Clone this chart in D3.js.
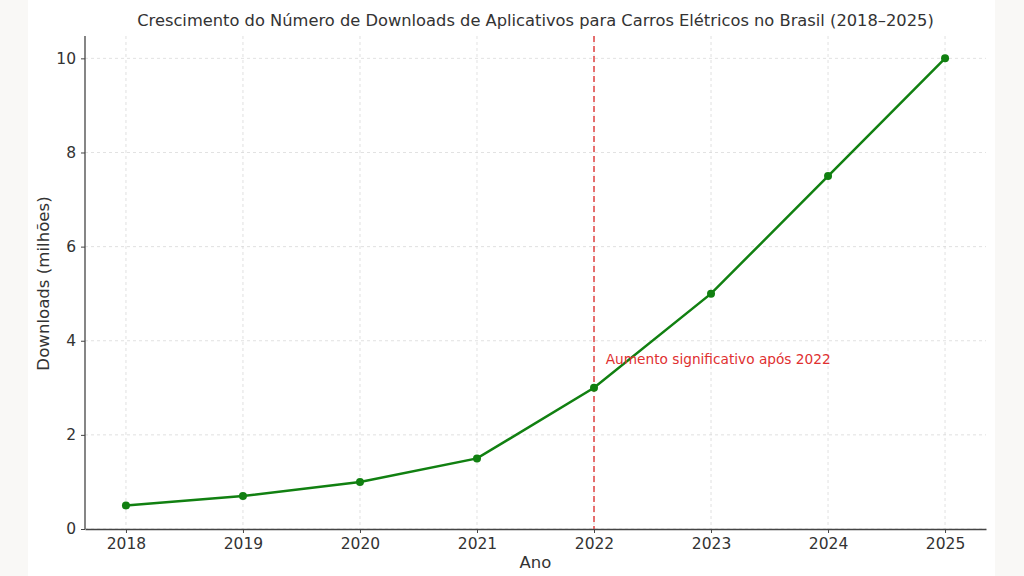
<!DOCTYPE html>
<html><head><meta charset="utf-8">
<script src="https://cdn.jsdelivr.net/npm/d3@7"></script>
<style>
html,body{margin:0;padding:0;background:#f9f8f6;}
svg{display:block;}
text{font-family:"DejaVu Sans",sans-serif;fill:#333;}
</style></head>
<body>
<svg id="c" width="1024" height="576"></svg>
<script>
const years = [2018, 2019, 2020, 2021, 2022, 2023, 2024, 2025];
const downloads = [0.5, 0.7, 1.0, 1.5, 3.0, 5.0, 7.5, 10.0];
const yTicks = [0, 2, 4, 6, 8, 10];
const title = "Crescimento do Número de Downloads de Aplicativos para Carros Elétricos no Brasil (2018–2025)";
const xLabel = "Ano";
const yLabel = "Downloads (milhões)";
const markYear = 2022;
const annotation = {x: 2022.1, y: 3.5, text: "Aumento significativo após 2022"};

const svg = d3.select("#c");
svg.append("rect").attr("x", 28).attr("y", 0).attr("width", 967).attr("height", 576).attr("fill", "#fff");

const L = 85, R = 986, T = 36, B = 529;
const x = d3.scaleLinear().domain([2017.65, 2025.35]).range([L, R]);
const y = d3.scaleLinear().domain([0, 10.475]).range([B, T]);

// grid
const g = svg.append("g");
g.selectAll(".vg").data(years).enter().append("line")
  .attr("x1", d => x(d)).attr("x2", d => x(d)).attr("y1", T).attr("y2", B)
  .attr("stroke", "#d4d4d4").attr("stroke-width", 0.7).attr("stroke-dasharray", "3,3");
g.selectAll(".hg").data(yTicks).enter().append("line")
  .attr("x1", L).attr("x2", R).attr("y1", d => y(d)).attr("y2", d => y(d))
  .attr("stroke", "#d4d4d4").attr("stroke-width", 0.7).attr("stroke-dasharray", "3,3");

// axes
const xa = svg.append("g").attr("transform", `translate(0,${B})`)
  .call(d3.axisBottom(x).tickValues(years).tickFormat(d3.format("d")).tickSize(4).tickPadding(5).tickSizeOuter(0));
const ya = svg.append("g").attr("transform", `translate(${L},0)`)
  .call(d3.axisLeft(y).tickValues(yTicks).tickFormat(d3.format("d")).tickSize(4).tickPadding(5).tickSizeOuter(0));
[xa, ya].forEach(a => {
  a.selectAll("path").attr("stroke", "#444").attr("stroke-width", 1.3);
  a.selectAll("line").attr("stroke", "#444");
  a.selectAll("text").attr("font-size", 15.5).attr("font-family", "DejaVu Sans").attr("fill", "#333");
});
ya.select(".domain").attr("d", `M0,${B}V${T}`);

// vertical red line
svg.append("line").attr("x1", x(markYear)).attr("x2", x(markYear)).attr("y1", T).attr("y2", B)
  .attr("stroke", "#e03c3c").attr("stroke-width", 1.6).attr("stroke-dasharray", "6,4").attr("opacity", 0.9);

// line
const data = years.map((d, i) => ({x: d, y: downloads[i]}));
svg.append("path").datum(data)
  .attr("d", d3.line().x(d => x(d.x)).y(d => y(d.y)))
  .attr("fill", "none").attr("stroke", "#118011").attr("stroke-width", 2.5);
svg.selectAll(".pt").data(data).enter().append("circle")
  .attr("cx", d => x(d.x)).attr("cy", d => y(d.y)).attr("r", 4).attr("fill", "#118011");

// annotation
svg.append("text").attr("x", x(annotation.x)).attr("y", y(annotation.y))
  .attr("font-size", 13.7).style("fill", "#e03030").text(annotation.text);

// titles
svg.append("text").attr("x", (L + R) / 2).attr("y", 26).attr("text-anchor", "middle")
  .attr("font-size", 16.3).text(title);
svg.append("text").attr("x", (L + R) / 2).attr("y", 568).attr("text-anchor", "middle")
  .attr("font-size", 16.5).text(xLabel);
svg.append("text").attr("transform", `translate(49,${(T + B) / 2 + 1}) rotate(-90)`).attr("text-anchor", "middle")
  .attr("font-size", 16.6).text(yLabel);
</script>
</body></html>
